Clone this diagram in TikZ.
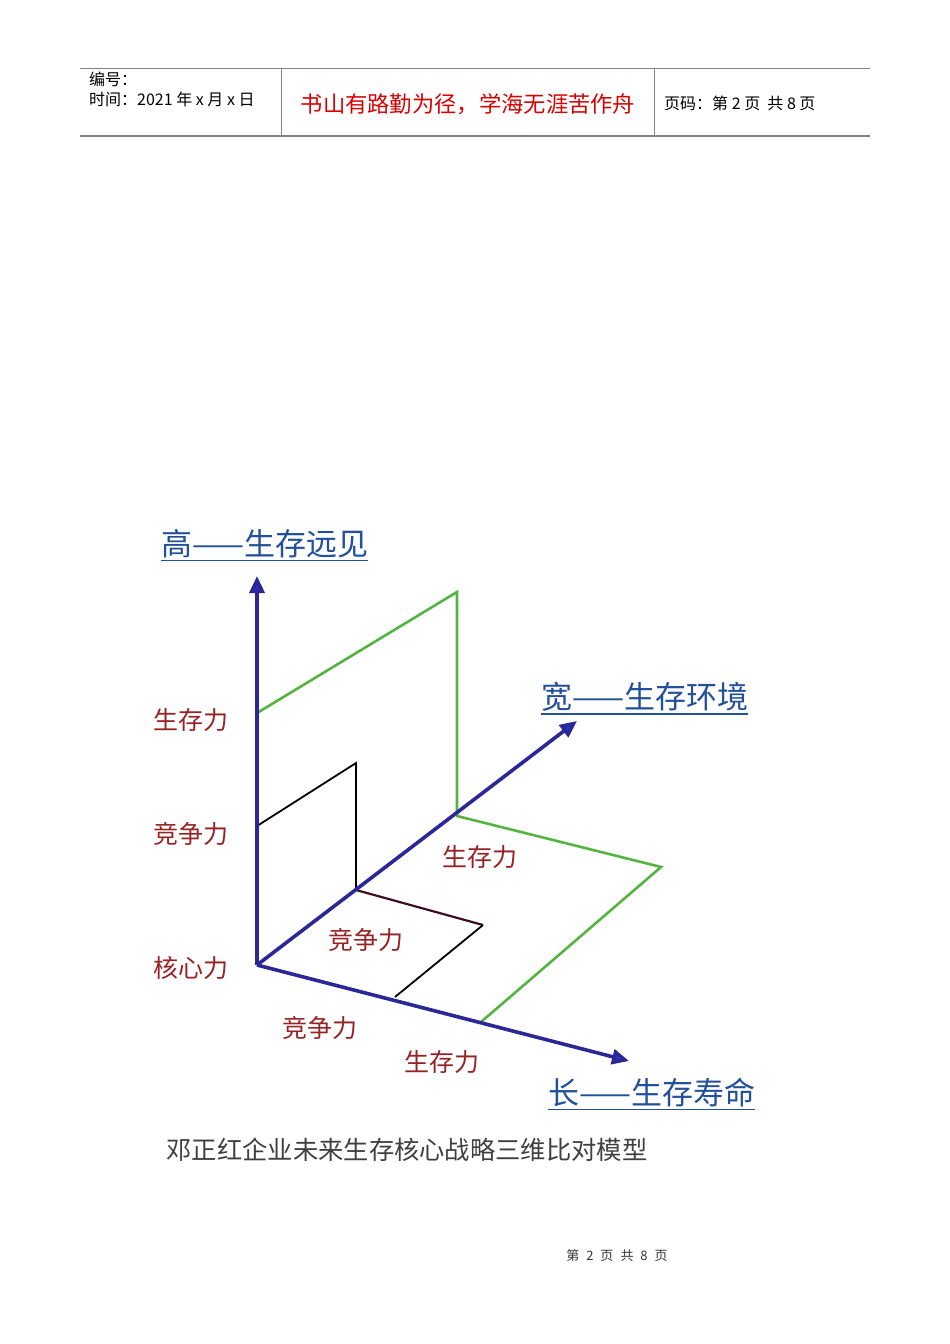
\documentclass[tikz,border=0pt]{standalone}
\usepackage{fontspec}
\setmainfont{Noto Sans CJK SC}
\usetikzlibrary{arrows.meta}
\definecolor{axisblue}{RGB}{42,40,150}
\definecolor{tipblue}{RGB}{50,45,200}
\definecolor{planegreen}{RGB}{85,180,65}
\definecolor{labred}{RGB}{150,35,35}
\definecolor{titleblue}{RGB}{35,80,155}
\definecolor{rulegray}{RGB}{130,130,130}
\definecolor{floordark}{RGB}{60,15,35}
\tikzset{
  axis/.style={draw=axisblue, line width=3.6pt, -{Triangle[width=15pt,length=17pt,fill=tipblue]}},
  greenline/.style={draw=planegreen, line width=2.6pt, line join=miter},
  darkline/.style={draw=black, line width=1.8pt},
  lab/.style={text=labred, font=\fontsize{25}{25}\selectfont, inner sep=0pt},
  ttl/.style={text=titleblue, font=\fontsize{31}{31}\selectfont, inner sep=0pt, anchor=west},
  uline/.style={draw=titleblue, line width=1.6pt},
  hdr/.style={font=\fontsize{16}{16}\selectfont, inner sep=0pt, anchor=west},
  hrule/.style={draw=rulegray, line width=0.9pt}
}
\begin{document}
\begin{tikzpicture}[x=1pt,y=-1pt]
\useasboundingbox[fill=white] (0,0) rectangle (950,1344);
% header
\draw[hrule] (80,68) -- (870,68);
\draw[draw=rulegray, line width=2pt] (80,136) -- (870,136);
\draw[hrule] (281,68) -- (281,136);
\draw[hrule] (654,68) -- (654,136);
\node[hdr] (h1) at (89,79) {编号：};
\node[hdr] (h2) at (89,99) {时间：2021 年 x 月 x 日};
\node[inner sep=0pt, text=red!85!black, font=\fontsize{22.3}{22.3}\selectfont] (h3) at (468,104) {书山有路勤为径，学海无涯苦作舟};
\node[hdr] (h4) at (664,103) {页码：第 2 页\ \ 共 8 页};
% axes points
\coordinate (O) at (257,965);
\coordinate (H) at (257,576);
\coordinate (W) at (577,721);
\coordinate (L) at (629,1061);
% green plane
\coordinate (g1) at (257,713);
\coordinate (g2) at (457,592);
\coordinate (g3) at (457,816);
\coordinate (g4) at (661,867);
\coordinate (g5) at (481,1022);
\draw[greenline] (g1) -- (g2) -- (g3) -- (g4) -- (g5);
% dark plane
\coordinate (k1) at (257,826);
\coordinate (k2) at (356,763);
\coordinate (k3) at (356,890);
\coordinate (k4) at (483,925);
\coordinate (k5) at (395,997);
\draw[darkline] (k1) -- (k2) -- (k3);
\draw[draw=floordark, line width=2.2pt] (k3) -- (k4);
\draw[darkline] (k4) -- (k5);
% axes
\draw[axis] (O) -- (H);
\draw[axis] (O) -- (W);
\draw[axis] (O) -- (L);
% labels
\node[lab] (l1) at (191,720) {生存力};
\node[lab] (l2) at (191,834) {竞争力};
\node[lab] (l3) at (191,968) {核心力};
\node[lab] (l4) at (480,857) {生存力};
\node[lab] (l5) at (366,940) {竞争力};
\node[lab] (l6) at (320,1028) {竞争力};
\node[lab] (l7) at (442,1062) {生存力};
% titles
\node[ttl] (t1) at (161,544) {高——生存远见};
\draw[uline] ([yshift=-2pt]t1.south west) -- ([yshift=-2pt]t1.south east);
\node[ttl] (t2) at (541,697) {宽——生存环境};
\draw[uline] ([yshift=-2pt]t2.south west) -- ([yshift=-2pt]t2.south east);
\node[ttl] (t3) at (548,1093) {长——生存寿命};
\draw[uline] ([yshift=-2pt]t3.south west) -- ([yshift=-2pt]t3.south east);
% caption
\node[inner sep=0pt, text=black!75, font=\fontsize{25.3}{25.3}\selectfont] (cap) at (407,1150) {邓正红企业未来生存核心战略三维比对模型};
% footer
\node[inner sep=0pt, text=black!80, font=\fontsize{13}{13}\selectfont] (foot) at (617,1256) {第\hspace{7pt}2\hspace{7pt}页\hspace{7pt}共\hspace{7pt}8\hspace{7pt}页};
\end{tikzpicture}
\end{document}
